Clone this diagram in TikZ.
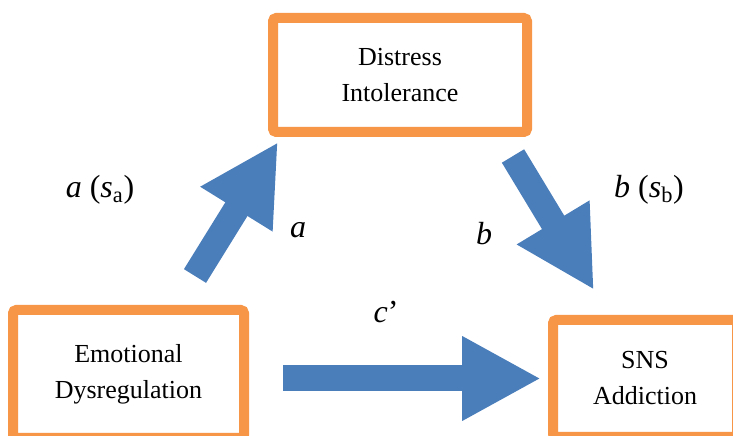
\documentclass[tikz,border=0pt]{standalone}
\usepackage{fontspec}
\setmainfont{Liberation Serif}
\usetikzlibrary{arrows.meta, positioning}

\definecolor{boxorange}{HTML}{F79646}
\definecolor{arrowblue}{HTML}{4A7EBB}

\begin{document}
\begin{tikzpicture}[
		x=0.75pt, y=0.75pt,
		box/.style={rectangle, draw=boxorange, line width=7.5pt, rounded corners=2.5pt, fill=white, align=center, font=\fontsize{19.5}{27}\selectfont},
		bigarrow/.style={draw=arrowblue, line width=19.5pt, -{Triangle[length=59.25pt, width=59.25pt, fill=arrowblue]}},
		lbl/.style={inner sep=0pt, font=\fontsize{24}{28}\selectfont}
		]
		\useasboundingbox (0,0) rectangle (733,436);
		
		% Boxes
		\node[box, minimum width=173.25pt, minimum height=96pt] (emo) at (128.5,62) {Emotional\\Dysregulation};
		\node[box, minimum width=190.5pt, minimum height=85.5pt] (dis) at (400,361) {Distress\\Intolerance};
		\node[box, minimum width=138pt, minimum height=87.75pt] (sns) at (645,57.5) {SNS\\Addiction};
		
		% Paths
		\draw[bigarrow] ([shift={(66.5,29)}]emo.north) -- ([shift={(10,-5)}]dis.south west);
		\draw[bigarrow] ([shift={(-19,-19)}]dis.south east) -- ([shift={(-51,25)}]sns.north);
		\draw[bigarrow, shorten <=25.5pt, shorten >=5.25pt] (sns.west -| emo.east) -- (sns.west);
		
		% Labels
		\node[lbl] (la) at (298,206) {\textit{a}};
		\node[lbl] (lb) at (484,202) {\textit{b}};
		\node[lbl] (lc) at (386,124) {\textit{c}’};
		\node[lbl] (lsa) at (100,246) {\textit{a} (\textit{s}\textsubscript{a})};
		\node[lbl] (lsb) at (649,246) {\textit{b} (\textit{s}\textsubscript{b})};
	\end{tikzpicture}
\end{document}
